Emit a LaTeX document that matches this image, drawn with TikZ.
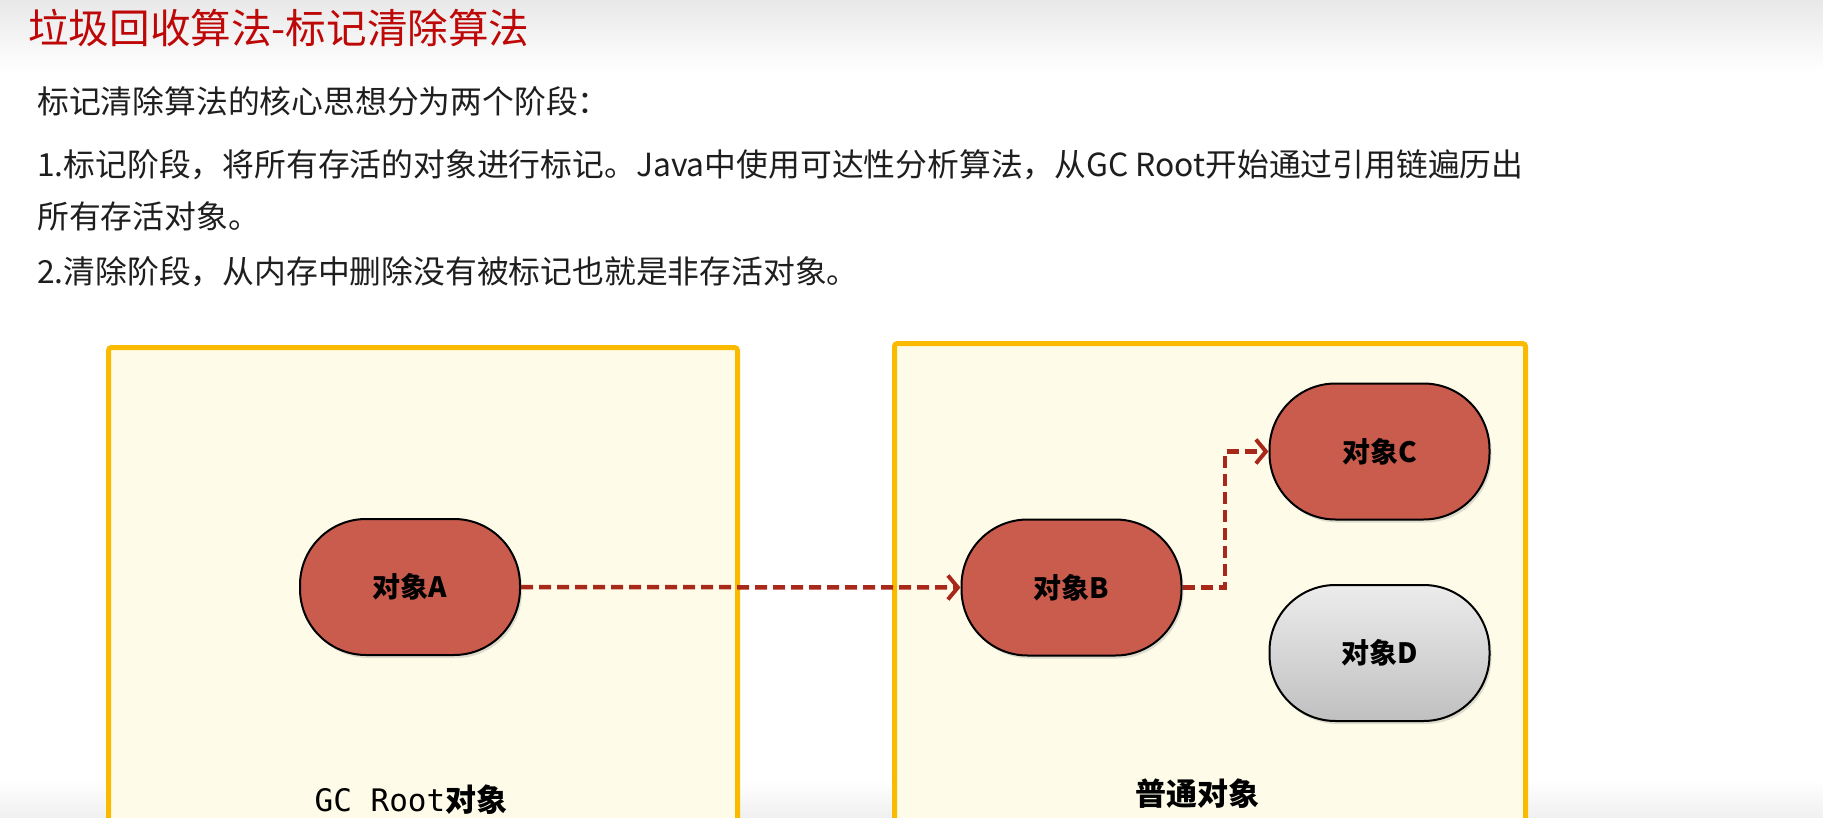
\documentclass[tikz,border=0pt]{standalone}
\usepackage{fontspec}
\newfontfamily\cjk{Noto Sans CJK SC}
\newfontfamily\monofont{DejaVu Sans Mono}
\usetikzlibrary{arrows.meta,shadows}
\definecolor{titlered}{RGB}{190,8,8}
\definecolor{bodytext}{RGB}{30,30,30}
\definecolor{boxborder}{RGB}{250,186,0}
\definecolor{boxfill}{RGB}{254,252,232}
\definecolor{objred}{RGB}{202,92,78}
\definecolor{arrowred}{RGB}{168,40,26}
\definecolor{objgraytop}{RGB}{236,236,236}
\definecolor{objgraybot}{RGB}{192,192,192}
\tikzset{
  bodyline/.style={anchor=west, inner sep=0pt, text=bodytext, font=\cjk\fontsize{31.8}{32}\selectfont},
  regionbox/.style={draw=boxborder, line width=5pt, fill=boxfill, rounded corners=3pt},
  obj/.style={draw=black, line width=2pt, rectangle, rounded corners=66pt,
    minimum width=220pt, minimum height=136pt, inner sep=0pt,
    font=\cjk\bfseries\fontsize{28}{28}\selectfont,
    drop shadow={opacity=0.25, shadow xshift=2pt, shadow yshift=-3pt}},
  live/.style={obj, fill=objred},
  dead/.style={obj, top color=objgraytop, bottom color=objgraybot},
  ref/.style={draw=arrowred, line width=4.5pt, dash pattern=on 12pt off 6pt,
    -{Straight Barb[length=10pt, width=24pt, line width=4pt]}},
  boxlabel/.style={inner sep=0pt, font=\cjk\bfseries\fontsize{31}{31}\selectfont}
}
\begin{document}
\begin{tikzpicture}[x=1pt,y=-1pt]
\useasboundingbox (0,0) rectangle (1823,818);
\clip (0,0) rectangle (1823,818);
\fill[white] (0,0) rectangle (1823,818);
\shade[top color=black!9, bottom color=white] (0,0) rectangle (1823,72);
\shade[top color=white, bottom color=black!6] (0,780) rectangle (1823,818);

% title
\node[anchor=west, inner sep=0pt, text=titlered, font=\cjk\fontsize{40.6}{41}\selectfont] (title) at (28,28) {垃圾回收算法-标记清除算法};

% body text
\node[bodyline] (l1) at (37,101) {标记清除算法的核心思想分为两个阶段：};
\node[bodyline] (l2) at (37,165) {1.标记阶段，将所有存活的对象进行标记。Java中使用可达性分析算法，从GC Root开始通过引用链遍历出};
\node[bodyline] (l3) at (37,216) {所有存活对象。};
\node[bodyline] (l4) at (37,272) {2.清除阶段，从内存中删除没有被标记也就是非存活对象。};

% region boxes
\draw[regionbox] (108.5,347.5) rectangle (737.5,840);
\draw[regionbox] (894.5,343.5) rectangle (1525.5,840);

% objects
\node[live] (A) at (410,587) {对象A};
\node[live] (B) at (1071.5,587.5) {对象B};
\node[live] (C) at (1379.5,451.5) {对象C};
\node[dead] (D) at (1379.5,653) {对象D};

% references
\coordinate (bend1) at (1225,587.5);
\coordinate (bend2) at (1225,451.5);
\draw[ref] (A.east) -- (B.west);
\draw[ref] (B.east) -- (bend1) -- (bend2) -- (C.west);

% box labels
\node[boxlabel] (gcroot) at (411,800) {{\monofont\mdseries GC Root}对象};
\node[boxlabel] (normal) at (1197,794) {普通对象};
\end{tikzpicture}
\end{document}
